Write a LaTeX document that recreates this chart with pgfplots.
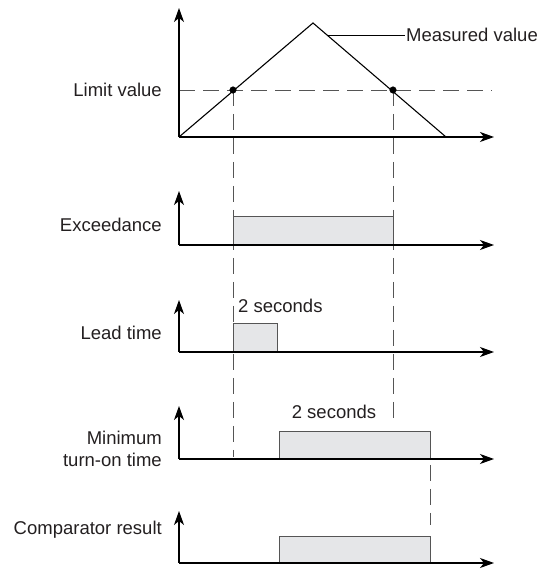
\documentclass[border=0pt]{standalone}
\usepackage{pgfplots}
\pgfplotsset{compat=1.18}
\usepackage{fontspec}
\setmainfont{Liberation Sans}
\usetikzlibrary{arrows.meta}
\definecolor{txt}{HTML}{231F20}
\definecolor{boxfill}{HTML}{E5E6E8}
\definecolor{boxedge}{HTML}{555555}
\definecolor{dashgray}{HTML}{555555}
\begin{document}
\begin{tikzpicture}
\begin{axis}[
  width=544pt, height=570pt, scale only axis,
  xmin=0, xmax=544, ymin=0, ymax=570,
  axis lines=none, clip=false,
]
\draw[draw=none] (axis cs:0,0) rectangle (axis cs:544,570);
\tikzset{ax/.style={line width=1.3pt, black, -{Stealth[length=14pt,width=10pt,inset=4pt]}},
  dl/.style={draw=dashgray, line width=0.9pt, dash pattern=on 16pt off 8pt},
  lbl/.style={font=\fontsize{18.5}{22}\selectfont, text=txt}}
% dashed guides
\addplot[dl] coordinates {(179,480) (492,480)};
\addplot[dl] coordinates {(233,480) (233,113)};
\addplot[dl] coordinates {(393,480) (393,152)};
\addplot[dl] coordinates {(430,105) (430,45)};
% boxes
\addplot[fill=boxfill, draw=boxedge, line width=0.9pt] coordinates {(233,325) (233,354) (393,354) (393,325)} -- cycle;
\addplot[fill=boxfill, draw=boxedge, line width=0.9pt] coordinates {(233,218) (233,247) (277,247) (277,218)} -- cycle;
\addplot[fill=boxfill, draw=boxedge, line width=0.9pt] coordinates {(279,111) (279,139) (430,139) (430,111)} -- cycle;
\addplot[fill=boxfill, draw=boxedge, line width=0.9pt] coordinates {(279,7) (279,34) (430,34) (430,7)} -- cycle;
% measured value
\addplot[black, line width=1.1pt] coordinates {(179,433) (313,547) (446,433)};
\addplot[only marks, mark=*, mark size=3.3pt, black] coordinates {(233,480) (393,480)};
\addplot[black, line width=0.8pt] coordinates {(327,535) (405,535)};
% axes
\draw[ax] (axis cs:179,433) -- (axis cs:179,562);
\draw[ax] (axis cs:179,433) -- (axis cs:494,433);
\draw[ax] (axis cs:179,325) -- (axis cs:179,379);
\draw[ax] (axis cs:179,325) -- (axis cs:494,325);
\draw[ax] (axis cs:179,218) -- (axis cs:179,270);
\draw[ax] (axis cs:179,218) -- (axis cs:494,218);
\draw[ax] (axis cs:179,111) -- (axis cs:179,164);
\draw[ax] (axis cs:179,111) -- (axis cs:494,111);
\draw[ax] (axis cs:179,7) -- (axis cs:179,59);
\draw[ax] (axis cs:179,7) -- (axis cs:494,7);
% labels
\node[lbl, anchor=west, inner sep=0pt] at (axis cs:406,535) {Measured value};
\node[lbl, anchor=east, inner sep=0pt] at (axis cs:162,480) {Limit value};
\node[lbl, anchor=east, inner sep=0pt] at (axis cs:162,345) {Exceedance};
\node[lbl, anchor=east, inner sep=0pt] at (axis cs:162,237) {Lead time};
\node[lbl, anchor=east, inner sep=0pt, align=right] at (axis cs:162,121) {Minimum\\turn-on time};
\node[lbl, anchor=east, inner sep=0pt] at (axis cs:162,40) {Comparator result};
\node[lbl, anchor=west, inner sep=0pt] at (axis cs:238,264) {2 seconds};
\node[lbl, inner sep=0pt] at (axis cs:334,158) {2 seconds};
\end{axis}
\end{tikzpicture}
\end{document}
